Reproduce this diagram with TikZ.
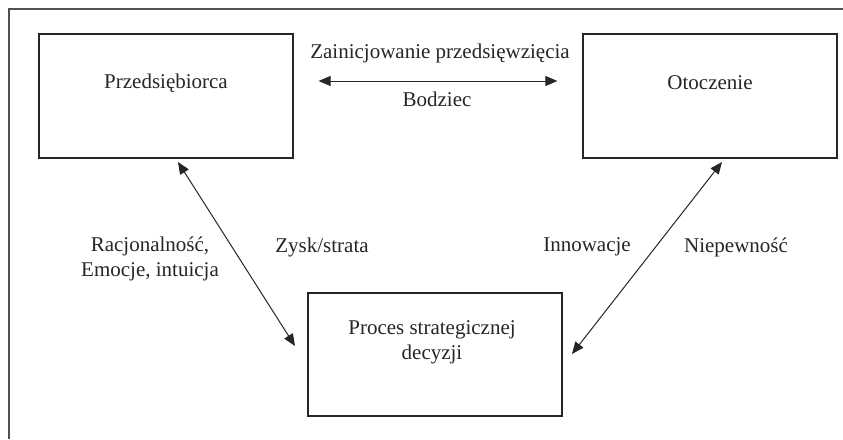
\documentclass[tikz,border=0pt]{standalone}
\usepackage{fontspec}
\setmainfont{Liberation Serif}
\usetikzlibrary{arrows.meta}
\definecolor{ink}{HTML}{262626}
\definecolor{frame}{HTML}{505050}
\begin{document}
\begin{tikzpicture}[x=1pt,y=-1pt,
  box/.style={draw=ink,line width=1.2pt,minimum width=254pt,minimum height=124pt,inner sep=0pt},
  lbl/.style={text=ink,font=\fontsize{21}{25}\selectfont,inner sep=0pt,align=center},
  arr/.style={draw=ink,line width=1pt,{Triangle[length=12pt,width=10pt]}-{Triangle[length=12pt,width=10pt]}}]
\useasboundingbox (0,0) rectangle (843,439);
\fill[white] (0,0) rectangle (843,439);
\draw[frame,line width=1.2pt] (9,439) -- (9,9) -- (843,9);
% boxes
\node[box] (p) at (166,96) {};
\node[box] (o) at (710,96) {};
\node[box,minimum height=123pt] (d) at (435,354.5) {};
% box texts
\node[lbl] (pt) at (166,83) {Przedsiębiorca};
\node[lbl] (ot) at (710,83) {Otoczenie};
\node[lbl] (dt) at (432,342) {Proces strategicznej\\decyzji};
% connectors
\draw[arr,shorten <=25pt,shorten >=25pt] ([yshift=15pt]p.east) -- ([yshift=15pt]o.west);
\coordinate (a1) at (178,162);
\coordinate (a2) at (295,346);
\coordinate (b1) at (722,162);
\coordinate (b2) at (572,354);
\draw[arr] (a1) -- (a2);
\draw[arr] (b1) -- (b2);
% labels
\node[lbl] (l1) at (440,53) {Zainicjowanie przedsięwzięcia};
\node[lbl] (l2) at (437,99) {Bodziec};
\node[lbl] (l3) at (150,259) {Racjonalność,\\Emocje, intuicja};
\node[lbl] (l4) at (322,247) {Zysk/strata};
\node[lbl] (l5) at (587,247) {Innowacje};
\node[lbl] (l6) at (736,247) {Niepewność};
\end{tikzpicture}
\end{document}
